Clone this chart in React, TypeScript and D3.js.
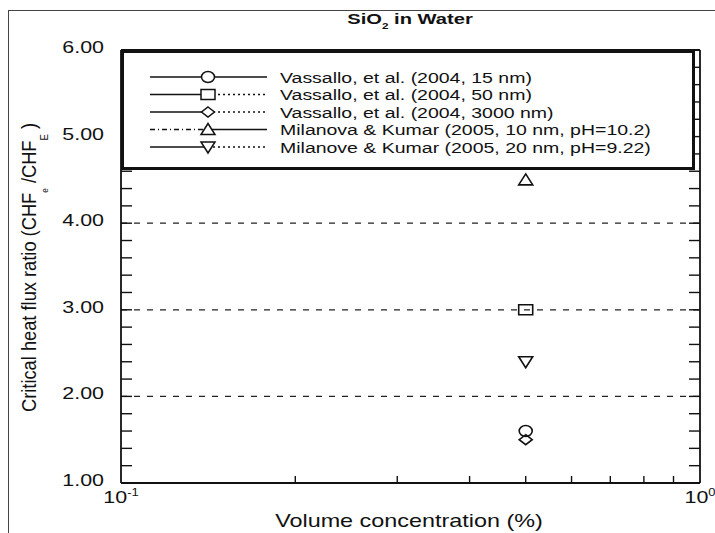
import React from "react";
import * as d3 from "d3";

// ---- data ----
const seriesLabels = [
  "Vassallo, et al. (2004, 15 nm)",
  "Vassallo, et al. (2004, 50 nm)",
  "Vassallo, et al. (2004, 3000 nm)",
  "Milanova & Kumar (2005, 10 nm, pH=10.2)",
  "Milanove & Kumar (2005, 20 nm, pH=9.22)",
];
const seriesMarkers = ["circle", "square", "diamond", "triangleUp", "triangleDown"];
const seriesConcentration = [0.5, 0.5, 0.5, 0.5, 0.5];
const seriesRatio = [1.6, 3.0, 1.5, 4.5, 2.4];
const yTickValues = [1, 2, 3, 4, 5, 6];
const yTickLabels = ["1.00", "2.00", "3.00", "4.00", "5.00", "6.00"];
const yMinorTicks = [1.2, 1.4, 1.6, 1.8, 2, 2.2, 2.4, 2.6, 2.8, 3, 3.2, 3.4, 3.6, 3.8, 4, 4.2, 4.4, 4.6, 4.8, 5, 5.2, 5.4, 5.6, 5.8];
const xMinorTicks = [0.2, 0.3, 0.4, 0.5, 0.6, 0.7, 0.8, 0.9];
const gridLevels = [2, 3, 4];

// ---- layout ----
const W = 715;
const H = 533;
const SX = 1.3;
const FONT = "'Liberation Sans', Arial, Helvetica, sans-serif";
const x = d3.scaleLog().domain([0.1, 1]).range([121, 700]);
const y = d3.scaleLinear().domain([1, 6]).range([483, 50]);

function markerPath(shape: string, cx: number, cy: number): string {
  switch (shape) {
    case "circle":
      return `M${cx - 6.5},${cy} a6.5,5.5 0 1,0 13,0 a6.5,5.5 0 1,0 -13,0Z`;
    case "square":
      return `M${cx - 7},${cy - 5}h14v10h-14Z`;
    case "diamond":
      return `M${cx},${cy - 5}L${cx + 6.5},${cy}L${cx},${cy + 5}L${cx - 6.5},${cy}Z`;
    case "triangleUp":
      return `M${cx},${cy - 6}L${cx + 7},${cy + 5}L${cx - 7},${cy + 5}Z`;
    default:
      return `M${cx},${cy + 6}L${cx + 7},${cy - 5}L${cx - 7},${cy - 5}Z`;
  }
}

function SText(props: any) {
  const { x: tx, y: ty, anchor = "start", size = 16, weight = "normal", children } = props;
  return (
    <g transform={`translate(${tx},${ty}) scale(${SX},1)`}>
      <text x={0} y={0} textAnchor={anchor} fontSize={size} fontWeight={weight} fontFamily={FONT} fill="#111">
        {children}
      </text>
    </g>
  );
}

const legendLeftDash = ["none", "none", "none", "5,3,1,3", "none"];
const legendRightDash = ["none", "2,3", "2,3", "none", "2,3"];

export default function App() {
  const x0 = x(0.1);
  const x1 = x(1);
  const yb = y(1);
  const yt = y(6);
  return (
    <svg width={W} height={H} style={{ position: "absolute", left: 0, top: 0, background: "#fff" }}>
      <rect x={0} y={0} width={W} height={H} fill="#fff" />
      {/* outer image frame */}
      <rect x={8.5} y={10.5} width={W + 20} height={H + 20} fill="none" stroke="#444" strokeWidth={1} />

      {/* title */}
      <SText x={410} y={24} anchor="middle" size={15.5} weight="bold">
        SiO<tspan fontSize={9} dy={5}>2</tspan>
        <tspan dy={-5}> in Water</tspan>
      </SText>

      {/* grid lines */}
      {gridLevels.map((g) => (
        <line key={g} x1={x0} x2={x1} y1={y(g)} y2={y(g)} stroke="#222" strokeWidth={1.3} strokeDasharray="6,7" />
      ))}

      {/* minor ticks */}
      {yMinorTicks.map((t) => (
        <g key={t}>
          <line x1={x0} x2={x0 + 11} y1={y(t)} y2={y(t)} stroke="#111" strokeWidth={1.4} />
          <line x1={x1} x2={x1 - 11} y1={y(t)} y2={y(t)} stroke="#111" strokeWidth={1.4} />
        </g>
      ))}
      {xMinorTicks.map((t) => (
        <line key={t} x1={x(t)} x2={x(t)} y1={yb} y2={yb - 7} stroke="#111" strokeWidth={1.4} />
      ))}

      {/* axes frame */}
      <line x1={x0} x2={x0} y1={yt} y2={yb} stroke="#111" strokeWidth={1.8} />
      <line x1={x1} x2={x1} y1={yt} y2={yb} stroke="#111" strokeWidth={1.8} />
      <line x1={x0} x2={x1} y1={yb} y2={yb} stroke="#111" strokeWidth={1.8} />
      <line x1={x0} x2={x1} y1={yt} y2={yt} stroke="#111" strokeWidth={1.8} />

      {/* data points */}
      {seriesRatio.map((v, i) => (
        <path key={i} d={markerPath(seriesMarkers[i], x(seriesConcentration[i]), y(v))} fill="none" stroke="#111" strokeWidth={1.6} />
      ))}

      {/* legend */}
      <rect x={122.5} y={51.5} width={571} height={117} fill="#fff" stroke="#111" strokeWidth={3} />
      {seriesLabels.map((lab, i) => {
        const cy = 77 + i * 17.5;
        const mx = 208;
        return (
          <g key={lab}>
            <line x1={150} x2={mx} y1={cy} y2={cy} stroke="#111" strokeWidth={1.3} strokeDasharray={legendLeftDash[i]} />
            <line x1={mx} x2={267} y1={cy} y2={cy} stroke="#111" strokeWidth={1.3} strokeDasharray={legendRightDash[i]} />
            <path d={markerPath(seriesMarkers[i], mx, cy)} fill="#fff" stroke="#111" strokeWidth={1.5} />
            <SText x={280} y={cy + 5.5} size={15}>{lab}</SText>
          </g>
        );
      })}

      {/* y tick labels */}
      {yTickValues.map((v, i) => (
        <SText key={v} x={104} y={y(v) + 3} anchor="end" size={16.5}>{yTickLabels[i]}</SText>
      ))}

      {/* x tick labels */}
      <SText x={x0} y={503} anchor="middle" size={16.5}>
        10<tspan fontSize={10} dy={-7}>-1</tspan>
      </SText>
      <SText x={x1} y={503} anchor="middle" size={16.5}>
        10<tspan fontSize={10} dy={-7}>0</tspan>
      </SText>

      {/* axis titles */}
      <SText x={409} y={527} anchor="middle" size={18}>Volume concentration (%)</SText>
      <g transform={`translate(36,412) scale(${SX},1) rotate(-90)`}>
        <text x={0} y={0} fontSize={15.5} fontFamily={FONT} fill="#111" textLength={289} lengthAdjust="spacingAndGlyphs">
          Critical heat flux ratio (CHF<tspan fontSize={7} dy={9}>e</tspan>
          <tspan dy={-9}> /CHF</tspan>
          <tspan fontSize={8} dy={9}>E</tspan>
          <tspan dy={-9}> )</tspan>
        </text>
      </g>
    </svg>
  );
}
